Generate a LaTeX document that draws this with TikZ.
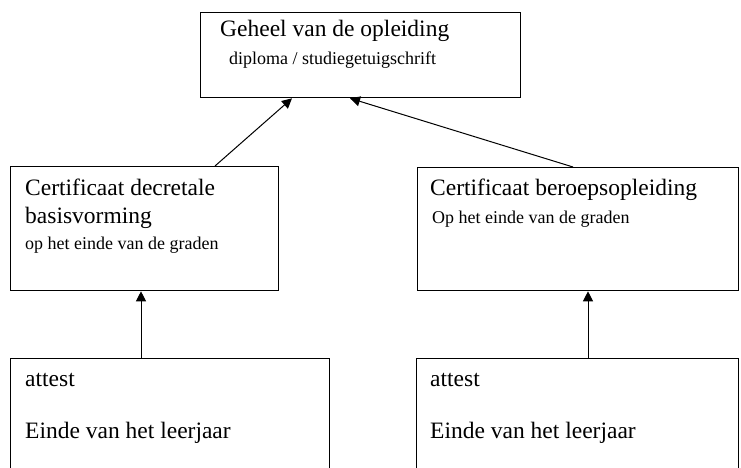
\documentclass[tikz,border=0pt]{standalone}
\usepackage{fontspec}
\setmainfont{Liberation Serif}
\usetikzlibrary{arrows.meta}

\tikzset{
  box/.style={draw, line width=1.3pt, rectangle, anchor=north west, inner sep=0pt},
  big/.style={anchor=base west, inner sep=0pt, font=\fontsize{23.5}{28}\selectfont},
  small/.style={anchor=base west, inner sep=0pt, font=\fontsize{18}{21}\selectfont},
  link/.style={line width=1pt, -{Triangle[length=10pt,width=10pt]}}
}

\begin{document}
\begin{tikzpicture}[x=1pt,y=-1pt]

\clip (0,0) rectangle (741,468);
\fill[white] (0,0) rectangle (741,468);

%the whole programme on top
\node[box, minimum width=320pt, minimum height=85pt] (geheel) at (200,12) {};
\node[big] (geheeltxt) at (220,37) {Geheel van de opleiding};
\node[small] (diploma) at (229,65) {diploma / studiegetuigschrift};

%the two certificates
\node[box, minimum width=268pt, minimum height=124pt] (basis) at (10,166) {};
\node[big] (basistxt1) at (25,195) {Certificaat decretale};
\node[big] (basistxt2) at (25,223) {basisvorming};
\node[small] (basistxt3) at (25,249) {op het einde van de graden};

\node[box, minimum width=321pt, minimum height=123pt] (beroep) at (417,167) {};
\node[big] (beroeptxt1) at (430,195) {Certificaat beroepsopleiding};
\node[small] (beroeptxt2) at (432,223) {Op het einde van de graden};

%the two attests, cut off at the bottom
\node[box, minimum width=319pt, minimum height=140pt] (attestl) at (10,358) {};
\node[big] (attestl1) at (25,386) {attest};
\node[big] (attestl2) at (25,438) {Einde van het leerjaar};

\node[box, minimum width=322pt, minimum height=140pt] (attestr) at (416,358) {};
\node[big] (attestr1) at (430,386) {attest};
\node[big] (attestr2) at (430,438) {Einde van het leerjaar};

%arrows up
\draw[link] ([xshift=205pt]basis.north west) -- ([xshift=92pt]geheel.south west);
\draw[link] ([xshift=156pt]beroep.north west) -- ([xshift=150pt]geheel.south west);
\draw[link] ([xshift=131pt]attestl.north west) -- ([xshift=131pt]basis.south west);
\draw[link] ([xshift=172pt]attestr.north west) -- ([xshift=171pt]beroep.south west);

\end{tikzpicture}
\end{document}
